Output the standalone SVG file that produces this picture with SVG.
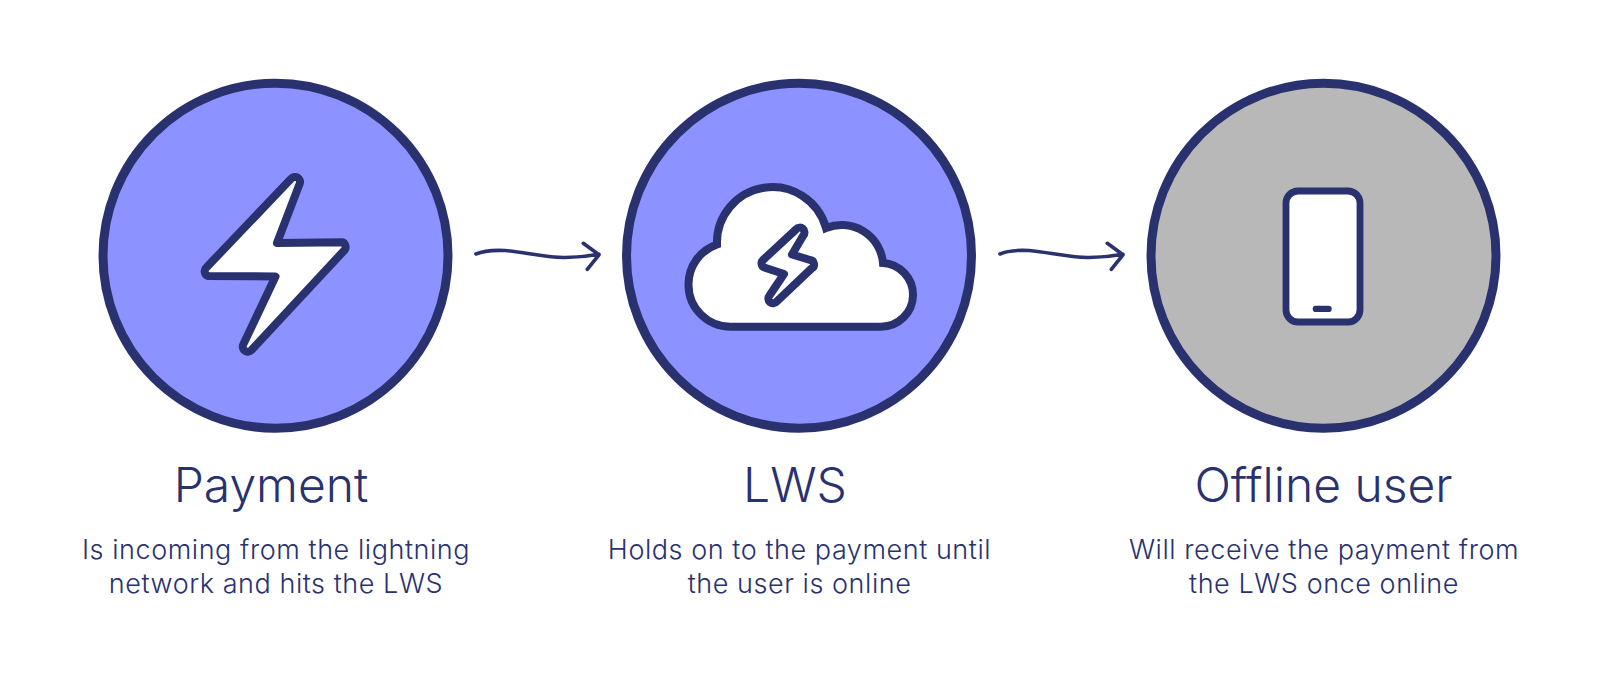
<svg xmlns="http://www.w3.org/2000/svg" width="1600" height="696" viewBox="0 0 1600 696">
<style>
.c{stroke:#29316f;stroke-width:9;}
.p{fill:#8c92ff;}
.g{fill:#b8b8b8;}
.i{fill:#fff;stroke:#29316f;stroke-width:8;stroke-linejoin:round;stroke-linecap:round;}
.m{stroke-linejoin:miter;}
.a{fill:none;stroke:#29316f;stroke-width:3.600;stroke-linecap:round;stroke-linejoin:round;}
text{font-family:Inter,"Liberation Sans",sans-serif;fill:#29316f;text-anchor:middle;font-weight:300;}
.t{font-size:48px;}
.s{font-size:27px;letter-spacing:.55px;}
</style>
<rect width="1600" height="696" fill="#fff"/>
<g id="connectors">
<path class="a" d="M476 254C485 250 495 250 505 250.500C525 252 545 258 565 257.500C578 257.500 590 256 599 254.300M583.300 243.300L599 254.800L587.300 269.300"/>
<path class="a" d="M1000 254C1009 250 1019 250 1029 250.500C1049 252 1069 258 1089 257.500C1102 257.500 1114 256 1123 254.300M1107.300 243.300L1123 254.800L1111.300 269.300"/>
</g>
<g id="node-payment">
<circle class="c p" cx="275.500" cy="255.700" r="172.500"/>
<path class="i" d="M291.300 178.600A5 5 0 0 1 299.700 183.700L277 243L342 242.200A5 5 0 0 1 344.600 250L251.300 350.200A5 5 0 0 1 243.200 344.600L275.500 276.500L208 276A5 5 0 0 1 206.400 267.500Z"/>
<text class="t" x="271" y="502">Payment</text>
<text class="s" x="276" y="559">Is incoming from the lightning</text>
<text class="s" x="276" y="593">network and hits the LWS</text>
</g>
<g id="node-lws">
<circle class="c p" cx="799" cy="255.700" r="172.500"/>
<path class="i m" d="M730.500 326.700A42 42 0 0 1 688.500 285A42 42 0 0 1 717 244.500A55.500 55.500 0 0 1 826 228A41.500 41.500 0 0 1 883 263A32 32 0 0 1 913 295A32 32 0 0 1 881 326.700Z"/>
<path class="i" d="M796.200 229.200A4.500 4.500 0 0 1 803.300 235.500L792 254.500L810 260A4.500 4.500 0 0 1 811.500 268.500L776.600 301.600A4.500 4.500 0 0 1 769.500 295.500L784 274L765 267.700A4.500 4.500 0 0 1 763 260Z"/>
<text class="t" x="795" y="502">LWS</text>
<text class="s" x="799.500" y="559">Holds on to the payment until</text>
<text class="s" x="799.500" y="593">the user is online</text>
</g>
<g id="node-offline">
<circle class="c g" cx="1323.500" cy="255.700" r="172.500"/>
<rect class="i" x="1286" y="191" width="74" height="131" rx="12" style="stroke-width:6.800"/>
<rect x="1312.700" y="305.700" width="19" height="6.300" rx="3.100" fill="#29316f"/>
<text class="t" x="1323.500" y="502">Offline user</text>
<text class="s" x="1324" y="559">Will receive the payment from</text>
<text class="s" x="1324" y="593">the LWS once online</text>
</g>
</svg>
